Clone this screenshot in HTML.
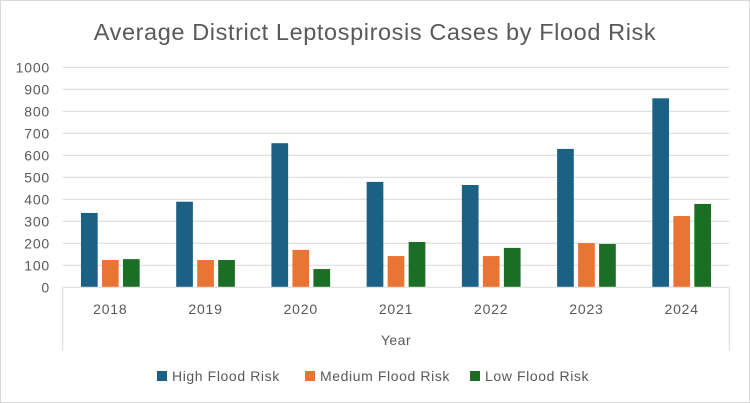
<!DOCTYPE html>
<html><head><meta charset="utf-8"><style>
html,body{margin:0;padding:0;background:#fff;}
svg{display:block;font-family:"Liberation Sans",sans-serif;}
</style></head><body>
<svg id="chart" width="750" height="403">
<rect x="0.5" y="0.5" width="749" height="402" fill="#fff" stroke="#d9d9d9"/>
<text x="375" y="40" text-anchor="middle" font-size="23.5" letter-spacing="0.6" fill="#595959">Average District Leptospirosis Cases by Flood Risk</text>
<g id="grid"></g><g id="bars"></g><g id="axes"></g>
<text x="396" y="345" text-anchor="middle" font-size="14" letter-spacing="0.5" fill="#595959">Year</text>
<g id="legend"></g>
</svg>
<script>
const categories=["2018","2019","2020","2021","2022","2023","2024"];
const highRisk=[338,389,655,479,465,629,859];
const mediumRisk=[124,124,170,142,142,201,324];
const lowRisk=[128,124,83,206,179,197,379];
const yTicks=[0,100,200,300,400,500,600,700,800,900,1000];
const seriesNames=["High Flood Risk","Medium Flood Risk","Low Flood Risk"];
const colors=["#1a6185","#ea7434","#1c6e26"];
const NS="http://www.w3.org/2000/svg";
const L=62.7,R=729.3,T=67.3,B=287.3,maxV=1000;
const y=v=>B-(v/maxV)*(B-T);
const bw=(R-L)/categories.length;
const xc=i=>L+bw*(i+0.5);
function mk(tag,attrs,parent){const e=document.createElementNS(NS,tag);for(const k in attrs)e.setAttribute(k,attrs[k]);parent.appendChild(e);return e;}
const grid=document.getElementById('grid'),axes=document.getElementById('axes'),bars=document.getElementById('bars'),legend=document.getElementById('legend');
yTicks.forEach(t=>{
 if(t>0){const l=mk('line',{x1:L,x2:R,y1:y(t),y2:y(t),stroke:'#d9d9d9','stroke-width':1},grid);
 
 }
 const tx=mk('text',{x:50,y:y(t)+5,'text-anchor':'end','font-size':14,'letter-spacing':0.8,fill:'#595959'},axes);tx.textContent=t;
 
 
});
const ax=mk('line',{x1:L,x2:R,y1:B,y2:B,stroke:'#d9d9d9'},axes);


[L,R].forEach((xx,i)=>{const l=mk('line',{x1:xx,x2:xx,y1:B,y2:351,stroke:'#d9d9d9'},axes);
 
 });
const series=[highRisk,mediumRisk,lowRisk];
const barW=16.7,gap=4.3;
categories.forEach((c,i)=>{
 const tx=mk('text',{x:xc(i),y:314,'text-anchor':'middle','font-size':14,'letter-spacing':0.8,fill:'#595959'},axes);tx.textContent=c;
 
 
 series.forEach((s,j)=>{
  const x0=xc(i)+(j-1)*(barW+gap)-barW/2;
  const r=mk('rect',{x:x0,y:y(s[i]),width:barW,height:B-y(s[i]),fill:colors[j]},bars);
  
  
 });
});
const lx=[157,305,470];
seriesNames.forEach((n,j)=>{
 const g=mk('g',{},legend);
 
 
 mk('rect',{x:lx[j],y:371,width:10,height:10,fill:colors[j]},g);
 const t=mk('text',{x:lx[j]+15,y:381,'font-size':14,'letter-spacing':0.6,fill:'#595959'},g);t.textContent=n;
});
</script>
</body></html>
